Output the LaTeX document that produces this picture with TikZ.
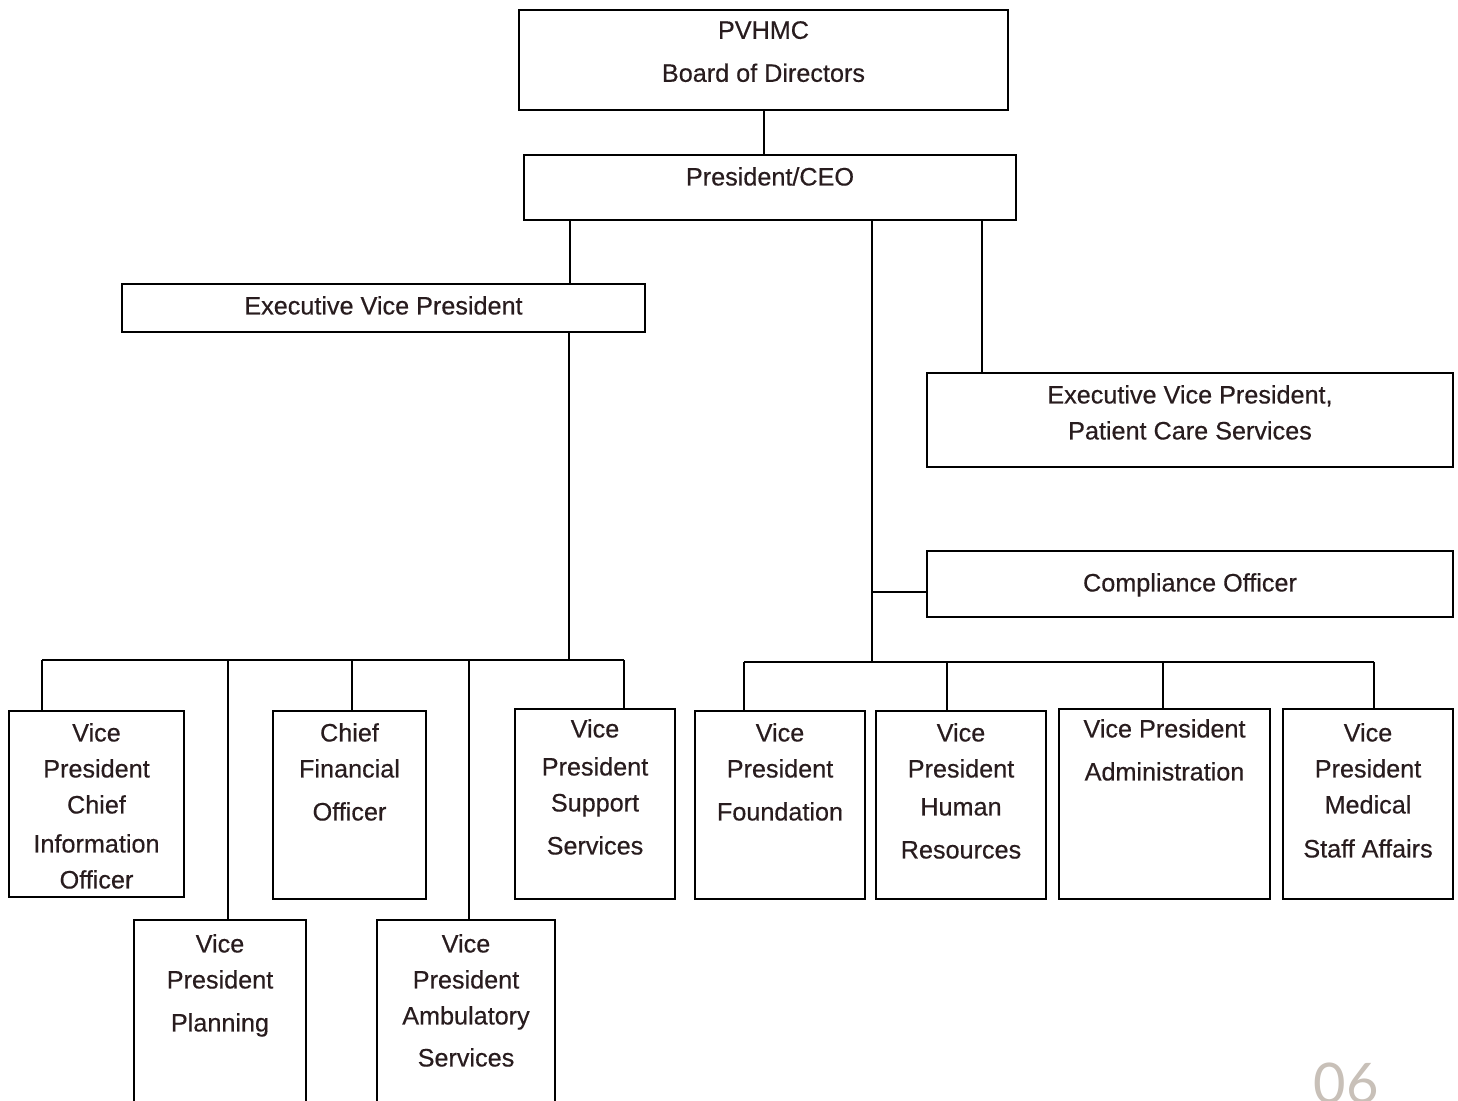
\documentclass[tikz,border=0pt]{standalone}
\usepackage{fontspec}
\setmainfont{Liberation Sans}[UprightFeatures={FakeBold=0.4}]
\newfontfamily\pagefont{Lato}
\usetikzlibrary{positioning}
\definecolor{textdark}{RGB}{40,28,30}
\definecolor{pagegray}{RGB}{200,192,184}

\begin{document}
\begin{tikzpicture}
[x=0.5pt, y=-0.5pt,
 orgbox/.style={draw, line width=1.2pt, inner sep=0pt},
 lbl/.style={inner sep=0pt, align=center, text=textdark, font=\fontsize{12.6}{18}\selectfont},
 link/.style={line width=1pt}]
\useasboundingbox (0,0) rectangle (1458,1101);
\clip (0,0) rectangle (1458,1101);
\fill[white] (0,0) rectangle (1458,1101);

% top levels
\node[orgbox, minimum width=244.5pt, minimum height=50pt] (board) at (763.5,60) {};
\node[orgbox, minimum width=246pt, minimum height=32.5pt] (ceo) at (770,187.5) {};
\node[orgbox, minimum width=261.5pt, minimum height=24pt] (evp) at (383.5,308) {};
\node[orgbox, minimum width=263pt, minimum height=47pt] (evppcs) at (1190,420) {};
\node[orgbox, minimum width=263pt, minimum height=33pt] (comp) at (1190,584) {};

% left group
\node[orgbox, minimum width=87.5pt, minimum height=93pt] (cio) at (96.5,804) {};
\node[orgbox, minimum width=76.5pt, minimum height=94pt] (cfo) at (349.5,805) {};
\node[orgbox, minimum width=80pt, minimum height=95pt] (supp) at (595,804) {};
\node[orgbox, minimum width=86pt, minimum height=95pt] (plan) at (220,1015) {};
\node[orgbox, minimum width=89pt, minimum height=95pt] (amb) at (466,1015) {};

% right group
\node[orgbox, minimum width=85pt, minimum height=94pt] (found) at (780,805) {};
\node[orgbox, minimum width=85pt, minimum height=94pt] (hr) at (961,805) {};
\node[orgbox, minimum width=105.5pt, minimum height=95pt] (admin) at (1164.5,804) {};
\node[orgbox, minimum width=85pt, minimum height=95pt] (med) at (1368,804) {};

% labels
\node[lbl, below=6pt of board.north] (board-t) {PVHMC\\[3.5pt]Board of Directors};
\node[lbl, below=6.5pt of ceo.north] (ceo-t) {President/CEO};
\node[lbl, below=6.5pt of evp.north] (evp-t) {Executive Vice President};
\node[lbl, below=6.5pt of evppcs.north] (evppcs-t) {Executive Vice President,\\Patient Care Services};
\node[lbl, below=11.5pt of comp.north] (comp-t) {Compliance Officer};
\node[lbl, below=6.5pt of cio.north] (cio-t) {Vice\\President\\Chief\\[1.5pt]Information\\Officer};
\node[lbl, below=6.5pt of cfo.north] (cfo-t) {Chief\\Financial\\[3.5pt]Officer};
\node[lbl, below=5.5pt of supp.north] (supp-t) {Vice\\[1pt]President\\Support\\[3.5pt]Services};
\node[lbl, below=7.5pt of plan.north] (plan-t) {Vice\\President\\[3.5pt]Planning};
\node[lbl, below=7.5pt of amb.north] (amb-t) {Vice\\President\\Ambulatory\\[3pt]Services};
\node[lbl, below=6.5pt of found.north] (found-t) {Vice\\President\\[3.5pt]Foundation};
\node[lbl, below=6.5pt of hr.north] (hr-t) {Vice\\President\\[1pt]Human\\[3.5pt]Resources};
\node[lbl, below=5.5pt of admin.north] (admin-t) {Vice President\\[3.5pt]Administration};
\node[lbl, below=7.5pt of med.north] (med-t) {Vice\\President\\Medical\\[4pt]Staff Affairs};

% connectors
\draw[link] (board.south) -- (board.south |- ceo.north);
\coordinate (c1) at (570,220);
\coordinate (c2) at (872,220);
\coordinate (c3) at (982,220);
\coordinate (rjoin) at (872,662);
\coordinate (jcomp) at (872,592);
\coordinate (ljoin) at (569,660);
\draw[link] (c1) -- (c1 |- evp.north);
\draw[link] (c2) -- (rjoin);
\draw[link] (c3) -- (c3 |- evppcs.north);
\draw[link] (jcomp) -- (jcomp -| comp.west);
\draw[link] (evp.south -| ljoin) -- (ljoin);

\foreach \x/\b in {42/cio,228/plan,352/cfo,469/amb,624/supp}
	{\coordinate (d\b) at (\x,660);
	 \draw[link] (d\b) -- (d\b |- \b.north);}
\draw[link] (dcio) -- (dsupp);

\foreach \x/\b in {744/found,947/hr,1163/admin,1374/med}
	{\coordinate (d\b) at (\x,662);
	 \draw[link] (d\b) -- (d\b |- \b.north);}
\draw[link] (dfound) -- (dmed);

\node[font=\pagefont\fontsize{28}{28}\selectfont, text=pagegray, anchor=base, inner sep=0pt] (pageno) at (1346,1103) {06};

\end{tikzpicture}
\end{document}
